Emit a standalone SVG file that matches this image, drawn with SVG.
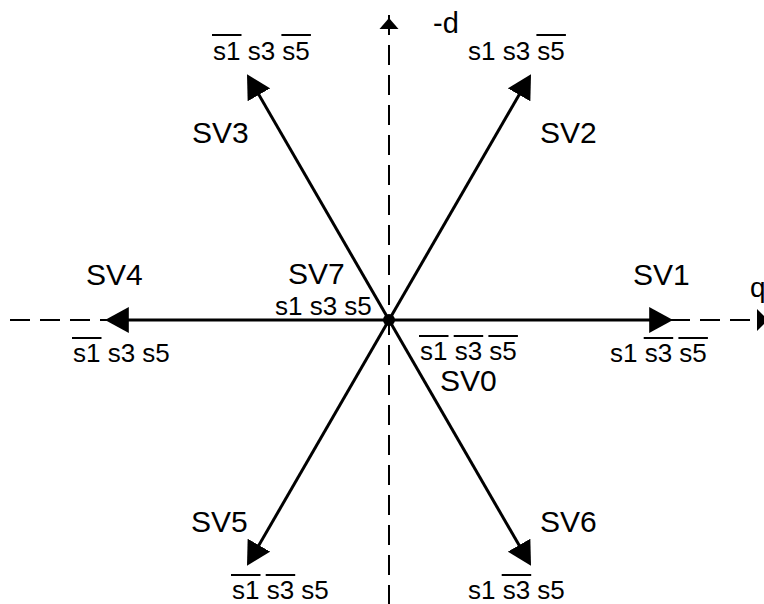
<svg xmlns="http://www.w3.org/2000/svg" width="764" height="604" viewBox="0 0 764 604">
<style>
.lbl{font-family:"Liberation Sans",Arial,sans-serif;font-size:30px;fill:#000}
.sw{font-family:"Liberation Sans",Arial,sans-serif;font-size:26px;fill:#000}
.ax{stroke:#000;stroke-width:2;stroke-dasharray:20 10;fill:none}
.vec{stroke:#000;stroke-width:3;fill:none;marker-end:url(#ah)}
.ov{stroke:#000;stroke-width:2}
</style>
<defs>
<marker id="ah" markerUnits="userSpaceOnUse" markerWidth="24" markerHeight="26" viewBox="0 0 22 24" refX="10" refY="12" orient="auto">
<path d="M0,0 L22,12 L0,24 z" fill="#000"/>
</marker>
</defs>
<g id="axes">
<line class="ax" x1="10" y1="320" x2="760" y2="320"/>
<polygon points="757,309 768,320 757,331" fill="#000"/>
<line class="ax" x1="389" y1="15" x2="389" y2="604"/>
<polygon points="389,18 379.5,29 398.5,29" fill="#000"/>
<text class="sw" x="750" y="297" style="font-size:28px">q</text>
<text class="sw" x="433" y="33" style="font-size:29px">-d</text>
</g>
<g id="connectors">
<line class="vec" x1="389" y1="320" x2="660" y2="320"/>
<line class="vec" x1="389" y1="320" x2="118" y2="320"/>
<line class="vec" x1="389" y1="320" x2="524.5" y2="85.4"/>
<line class="vec" x1="389" y1="320" x2="253.5" y2="85.4"/>
<line class="vec" x1="389" y1="320" x2="253.5" y2="554.6"/>
<line class="vec" x1="389" y1="320" x2="524.5" y2="554.6"/>
</g>
<g id="origin"><circle cx="389" cy="320" r="6" fill="#000"/></g>
<g id="SV1">
<text class="lbl" x="633" y="285">SV1</text>
<text class="sw" x="610" y="362">s1 s3 s5</text>
<line class="ov" x1="643.7" y1="338" x2="673.2" y2="338"/>
<line class="ov" x1="678.4" y1="338" x2="707.9" y2="338"/>
</g>
<g id="SV2">
<text class="lbl" x="540" y="143">SV2</text>
<text class="sw" x="468" y="60">s1 s3 s5</text>
<line class="ov" x1="536.4" y1="35" x2="565.9" y2="35"/>
</g>
<g id="SV3">
<text class="lbl" x="192" y="143">SV3</text>
<text class="sw" x="213" y="60">s1 s3 s5</text>
<line class="ov" x1="212" y1="35" x2="241.5" y2="35"/>
<line class="ov" x1="281.4" y1="35" x2="310.9" y2="35"/>
</g>
<g id="SV4">
<text class="lbl" x="86" y="285">SV4</text>
<text class="sw" x="73" y="362">s1 s3 s5</text>
<line class="ov" x1="72" y1="338" x2="101.5" y2="338"/>
</g>
<g id="SV5">
<text class="lbl" x="191" y="532">SV5</text>
<text class="sw" x="232" y="599">s1 s3 s5</text>
<line class="ov" x1="231" y1="575" x2="260.5" y2="575"/>
<line class="ov" x1="265.7" y1="575" x2="295.2" y2="575"/>
</g>
<g id="SV6">
<text class="lbl" x="540" y="532">SV6</text>
<text class="sw" x="468" y="599">s1 s3 s5</text>
<line class="ov" x1="501.7" y1="575" x2="531.2" y2="575"/>
</g>
<g id="SV7">
<text class="lbl" x="288" y="284">SV7</text>
<text class="sw" x="275" y="315">s1 s3 s5</text>
</g>
<g id="SV0">
<text class="lbl" x="440" y="391">SV0</text>
<text class="sw" x="420" y="360">s1 s3 s5</text>
<line class="ov" x1="419" y1="336" x2="448.5" y2="336"/>
<line class="ov" x1="453.7" y1="336" x2="483.2" y2="336"/>
<line class="ov" x1="488.4" y1="336" x2="517.9" y2="336"/>
</g>
</svg>
